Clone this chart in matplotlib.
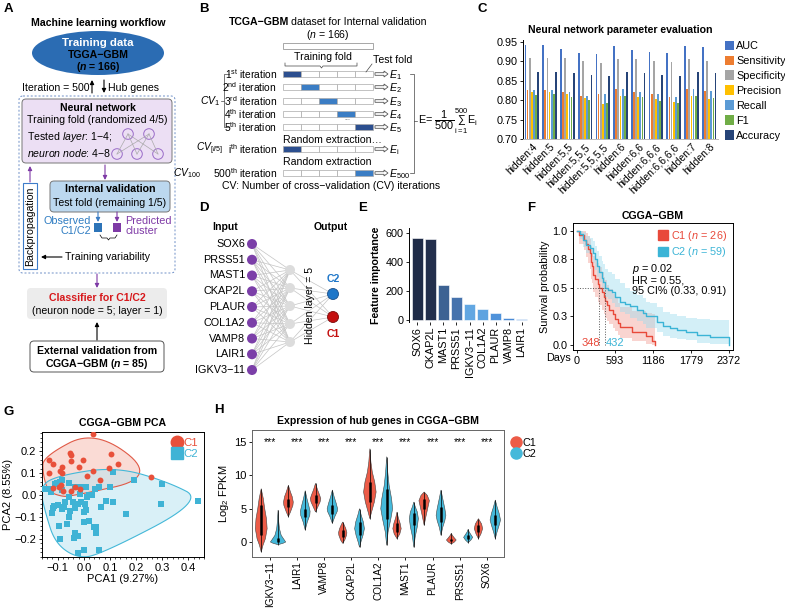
import numpy as np
import matplotlib
matplotlib.use("Agg")
import matplotlib.pyplot as plt
import matplotlib.patches as mp
from matplotlib.lines import Line2D
from matplotlib.ticker import MultipleLocator

plt.rcParams['font.family'] = ['Liberation Sans', 'DejaVu Sans']
plt.rcParams['mathtext.fontset'] = 'custom'
plt.rcParams['mathtext.rm'] = 'Liberation Sans'
plt.rcParams['mathtext.it'] = 'Liberation Sans:italic'
plt.rcParams['mathtext.bf'] = 'Liberation Sans:bold'
plt.rcParams['mathtext.bfit'] = 'Liberation Sans:italic:bold'
plt.rcParams['axes.linewidth'] = 0.7
plt.rcParams['xtick.major.width'] = 0.6
plt.rcParams['ytick.major.width'] = 0.6
plt.rcParams['xtick.major.size'] = 2.5
plt.rcParams['ytick.major.size'] = 2.5
plt.rcParams['xtick.major.pad'] = 1.5
plt.rcParams['ytick.major.pad'] = 1.5

# ---------------- data ----------------
# C: neural network parameter evaluation
models = ['hidden:4', 'hidden:5', 'hidden:5,5', 'hidden:5,5,5', 'hidden:5,5,5,5', 'hidden:6',
          'hidden:6,6', 'hidden:6,6,6', 'hidden:6,6,6,6', 'hidden:7', 'hidden:8']
metrics = ['AUC', 'Sensitivity', 'Specificity', 'Precision', 'Recall', 'F1', 'Accuracy']
auc = [0.941, 0.943, 0.933, 0.922, 0.919, 0.940, 0.930, 0.924, 0.922, 0.940, 0.938]
sens = [0.826, 0.826, 0.821, 0.812, 0.815, 0.829, 0.821, 0.815, 0.809, 0.830, 0.824]
spec = [0.909, 0.909, 0.908, 0.901, 0.896, 0.906, 0.905, 0.900, 0.898, 0.906, 0.901]
prec = [0.820, 0.820, 0.815, 0.806, 0.791, 0.812, 0.809, 0.802, 0.796, 0.810, 0.804]
recall = [0.826, 0.826, 0.821, 0.812, 0.815, 0.829, 0.821, 0.815, 0.809, 0.830, 0.824]
f1 = [0.814, 0.815, 0.808, 0.801, 0.794, 0.812, 0.807, 0.799, 0.794, 0.812, 0.805]
acc = [0.873, 0.873, 0.869, 0.865, 0.862, 0.873, 0.870, 0.865, 0.862, 0.873, 0.869]
metric_colors = ['#4472c4', '#ed7d31', '#a5a5a5', '#ffc000', '#5b9bd5', '#70ad47', '#264478']

# D: network inputs
input_genes = ['SOX6', 'PRSS51', 'MAST1', 'CKAP2L', 'PLAUR', 'COL1A2', 'VAMP8', 'LAIR1', 'IGKV3\u221211']
n_hidden = 5

# E: feature importance
imp_genes = ['SOX6', 'CKAP2L', 'MAST1', 'PRSS51', 'IGKV3\u221211', 'COL1A2', 'PLAUR', 'VAMP8', 'LAIR1']
importance = [567, 556, 239, 159, 108, 76, 50, 16, 8]
imp_colors = ['#1f2b47', '#232f4c', '#3c6293', '#4673ad', '#62a7e2', '#5ea3e0', '#4f92da', '#4a8bd6', '#4e8fd8']

# F: Kaplan-Meier (CGGA-GBM)
c1_t = [0, 40, 110, 150, 180, 200, 215, 228, 238, 245, 252, 290, 325, 348, 390, 420, 440, 470, 505, 560,
        600, 640, 680, 860, 1080, 1170, 1220]
c1_s = [1.0, .962, .923, .885, .846, .808, .769, .731, .692, .654, .615, .577, .538, .500, .462, .423, .385,
        .346, .308, .269, .231, .192, .154, .115, .077, .038, 0.0]
c1_lo = [1.0, .89, .83, .77, .72, .67, .62, .58, .54, .50, .46, .42, .38, .35, .31, .27, .24, .21, .18, .15,
         .12, .09, .06, .03, .01, .0, .0]
c1_hi = [1.0, 1.0, 1.0, .98, .96, .93, .90, .87, .84, .81, .78, .75, .72, .68, .64, .60, .57, .53, .49, .45,
         .41, .37, .33, .30, .28, .27, .27]
c2_t = [0, 50, 94, 150, 200, 250, 280, 312, 350, 390, 410, 432, 480, 546, 600, 670, 750, 827, 930, 1030,
        1080, 1139, 1250, 1342, 1450, 1560, 1700, 1872, 2075, 2372]
c2_s = [1.0, .97, .92, .88, .85, .81, .75, .69, .64, .59, .55, .50, .48, .46, .42, .38, .36, .34, .31, .28,
        .25, .25, .20, .17, .15, .13, .11, .09, .07, .0]
c2_lo = [1.0, .93, .86, .81, .77, .72, .66, .60, .55, .50, .46, .42, .40, .37, .33, .29, .27, .24, .21, .18,
         .15, .15, .11, .08, .06, .05, .04, .02, .01, .0]
c2_hi = [1.0, 1.0, .99, .96, .94, .91, .87, .82, .78, .74, .71, .67, .64, .62, .58, .54, .50, .47, .44, .41,
         .38, .37, .33, .29, .27, .25, .24, .23, .22, .22]
med_c1, med_c2 = 348, 432
km_ticks = [0, 593, 1186, 1779, 2372]

# G: PCA
c1_pc1 = [0.036, -0.135, -0.119, -0.132, -0.092, -0.085, -0.083, -0.051, -0.050, -0.050, -0.019, -0.005, 0.013,
          0.037, 0.062, 0.098, 0.105, 0.129, 0.259, -0.118, -0.096, -0.089, -0.080, -0.050, -0.032, -0.013]
c1_pc2 = [0.275, 0.161, 0.141, 0.099, 0.109, 0.100, 0.128, 0.191, 0.183, 0.155, 0.128, 0.161, 0.087,
          0.109, 0.067, 0.123, 0.188, 0.140, 0.081, 0.032, 0.037, 0.045, 0.017, 0.016, 0.037, 0.029]
c2_pc1 = [-0.147, -0.132, -0.112, -0.103, -0.090, -0.083, -0.058, -0.034, -0.013, 0.009, 0.041, 0.057, 0.112,
          0.102, 0.192, 0.300, 0.436, 0.294, 0.162, 0.111, 0.085, 0.064, 0.019, 0.013, 0.004, 0.009, 0.000,
          -0.010, -0.023, -0.042, -0.055, -0.071, -0.077, -0.083, -0.099, -0.115, -0.119, -0.083, -0.058,
          -0.064, -0.096, -0.092, -0.039, -0.032, -0.022, 0.000, 0.019, 0.038, 0.045, 0.045, 0.057, 0.000,
          -0.022, -0.121, -0.051, -0.035, -0.013, -0.125, 0.030]
c2_pc2 = [0.028, 0.028, 0.048, 0.052, 0.060, 0.070, 0.055, 0.037, 0.037, 0.034, 0.025, 0.037, 0.105,
          0.037, 0.067, 0.049, -0.028, -0.043, -0.087, -0.032, -0.029, -0.057, 0.001, -0.011, -0.039, -0.069,
          -0.076, -0.034, -0.039, -0.031, -0.008, -0.031, -0.057, -0.066, -0.046, -0.051, -0.061, 0.022,
          -0.102, -0.132, -0.141, -0.200, -0.197, -0.174, -0.186, -0.121, -0.117, -0.144, -0.174, -0.147,
          -0.250, -0.250, -0.262, -0.084, -0.072, -0.061, 0.004, 0.015, 0.000]

# H: violin outlines (y knots, half-width knots in px*3) per gene
hub_genes = ['IGKV3\u221211', 'LAIR1', 'VAMP8', 'CKAP2L', 'COL1A2', 'MAST1', 'PLAUR', 'PRSS51', 'SOX6']
red_vy = [[-1.5, -0.5, 0.5, 2, 3.5, 5, 6.5, 8], [3.8, 4.5, 5.5, 6, 6.8, 7.5, 8.5],
          [4.5, 5.2, 6, 6.5, 7, 7.8, 8.8], [-0.2, 0.3, 1, 1.4, 2, 2.6, 3],
          [3.5, 4.5, 6, 7.5, 9, 10.5, 12, 14], [0.5, 1.2, 2, 2.8, 3.6, 4.5],
          [2.5, 3.8, 5, 6.2, 7, 7.5], [-0.3, 0, 0.3, 0.6, 1, 1.3], [0.5, 1.2, 2, 2.7, 3.5]]
red_vw = [[0, 5, 12, 17, 15, 10, 6, 0], [0, 6, 13, 14, 11, 6, 0], [0, 6, 13, 15, 12, 6, 0],
          [0, 6, 11, 12, 9, 4, 0], [0, 5, 13, 18, 14, 7, 3, 0], [0, 8, 12, 9, 4, 0],
          [0, 5, 10, 15, 9, 0], [0, 9, 14, 9, 3, 0], [0, 7, 12, 9, 0]]
blue_vy = [[-0.4, -0.2, 0, 0.3, 1, 2, 3, 4.8], [1.8, 3, 4, 4.6, 5.5, 6.5, 7.7],
           [2.8, 3.8, 4.6, 5, 5.8, 6.8, 7.8], [-0.8, 0, 1, 2, 3, 4, 5],
           [-0.5, 1.5, 3.5, 5, 6.5, 8.5, 10.5, 12.8], [-0.8, 0.8, 2.3, 3.5, 4.5, 5.3, 6],
           [1, 2.2, 3.2, 4, 5, 6.5, 7.8], [-0.1, 0.3, 0.7, 1.1, 1.5, 1.9], [0.5, 1.5, 2.5, 3.3, 4.3, 5.3, 6.3]]
blue_vw = [[0, 14, 22, 18, 9, 4, 2, 0], [0, 6, 13, 14, 10, 5, 0], [0, 7, 14, 15, 11, 5, 0],
           [0, 4, 10, 14, 11, 5, 0], [0, 4, 12, 17, 14, 7, 3, 0], [0, 4, 10, 13, 10, 4, 0],
           [0, 5, 11, 14, 11, 5, 0], [0, 8, 13, 8, 3, 0], [0, 5, 11, 15, 11, 5, 0]]
red_q1 = [1.0, 5.3, 5.9, 0.8, 6.0, 1.5, 5.0, 0.1, 1.5]
red_q3 = [5.5, 6.5, 7.0, 1.8, 9.0, 2.8, 6.5, 0.5, 2.6]
blue_q1 = [0.0, 3.8, 4.2, 1.0, 3.5, 2.5, 3.0, 0.4, 2.5]
blue_q3 = [0.6, 5.0, 5.6, 3.0, 8.0, 4.3, 5.2, 1.0, 4.0]

RED = '#ec5b47'
BLUE = '#45b9da'
FS = 7.6
TS = 7.6

fig = plt.figure(figsize=(7.85, 6.10), dpi=100)
W, H = 785, 610
ov = fig.add_axes([0, 0, 1, 1])
ov.set_xlim(0, W)
ov.set_ylim(H, 0)
ov.axis('off')


def pax(l, t, r, b):
    return fig.add_axes([l / W, 1 - b / H, (r - l) / W, (b - t) / H])


def arr(x0, y0, x1, y1, c='k'):
    ov.annotate('', xy=(x1, y1), xytext=(x0, y0),
                arrowprops=dict(arrowstyle='-|>', color=c, lw=0.8, mutation_scale=6, shrinkA=0, shrinkB=0))


def txt(x, y, s, **kw):
    kw.setdefault('fontsize', FS)
    kw.setdefault('ha', 'center')
    kw.setdefault('va', 'center')
    ov.text(x, y, s, **kw)


def rbox(x, y, w, h, fc, ec, **kw):
    ov.add_patch(mp.FancyBboxPatch((x, y), w, h, boxstyle='round,pad=0,rounding_size=4', fc=fc, ec=ec, **kw))


# panel letters
for lab, x, y in [('A', 4, 9), ('B', 199, 9), ('C', 477, 9), ('D', 199, 208), ('E', 358, 208),
                  ('F', 527, 208), ('G', 3, 412), ('H', 214, 410)]:
    txt(x, y, lab, fontsize=9.5, fontweight='bold', ha='left')

# ---------------- A: workflow ----------------
txt(98, 23, 'Machine learning workflow', fontweight='bold', fontsize=TS)
ov.add_patch(mp.Ellipse((98, 53), 132, 44, fc='#2b6cb3', ec='none'))
txt(98, 43, 'Training data', color='white', fontweight='bold', fontsize=8.2)
txt(98, 55, 'TGGA\u2212GBM', fontweight='bold', fontsize=7.6)
txt(98, 67, '($\\mathbfit{n}$ = 166)', fontweight='bold', fontsize=7.6)
arr(92, 93, 92, 80)
arr(104, 80, 104, 93)
txt(89, 88, 'Iteration = 500', ha='right')
txt(108, 88, 'Hub genes', ha='left')
rbox(19, 96, 156, 177, 'none', '#6d8fc7', lw=0.7, ls=(0, (2, 2)))
rbox(22, 99, 150, 64, '#ecdff4', '#777777', lw=0.7)
txt(98, 108, 'Neural network', fontweight='bold', fontsize=TS)
txt(97, 120, 'Training fold (randomized 4/5)')
txt(27, 137, 'Tested $\\mathit{layer}$: 1\u22124;', ha='left')
txt(27, 153, '$\\mathit{neuron\\ node}$: 4\u22128', ha='left')
top_icon = [(128, 134), (149, 134)]
bot_icon = [(117, 154), (137, 154), (158, 154)]
for a in top_icon:
    for b in bot_icon:
        ov.plot([a[0], b[0]], [a[1], b[1]], color='#aaaaaa', lw=0.5)
for c in top_icon + bot_icon:
    ov.add_patch(mp.Circle(c, 5.3, fc='#ecdff4', ec='#9a6cc8', lw=0.7))
arr(105, 165, 105, 180, '#7e3aa6')
rbox(50, 181, 120, 31, '#bcd8ef', '#777777', lw=0.7)
txt(110, 189, 'Internal validation', fontweight='bold', fontsize=TS)
txt(110, 203, 'Test fold (remaining 1/5)')
arr(98, 212, 98, 222, '#3b7dc4')
arr(117, 212, 117, 222, '#7e3aa6')
ov.add_patch(mp.Rectangle((94, 223), 8, 9, fc='#2d74b8', ec='none'))
ov.add_patch(mp.Rectangle((113, 223), 8, 9, fc='#7e3aa6', ec='none'))
txt(91, 226, 'Observed\nC1/C2', ha='right', color='#2e7cc2', fontsize=7.8, linespacing=0.95)
txt(125, 226, 'Predicted\ncluster', ha='left', color='#7e3aa6', fontsize=7.8, linespacing=0.95)
ov.plot([100, 102, 107, 108.5, 110, 115, 117], [235, 238, 238, 240, 238, 238, 235], color='k', lw=0.5)
ov.add_patch(mp.Rectangle((23, 183), 14, 86, fc='white', ec='#3d7cc9', lw=0.8))
txt(30.5, 226, 'Backpropagation', rotation=90)
arr(30, 182, 30, 166, '#7e3aa6')
arr(62, 257, 41, 257)
txt(65, 257, 'Training variability', ha='left')
arr(97, 274, 97, 288, '#7e3aa6')
rbox(27, 288, 140, 31, '#ececec', 'none')
txt(97, 298, 'Classifier for C1/C2', color='#d7191c', fontweight='bold', fontsize=TS)
txt(97, 311, '(neuron node = 5; layer = 1)')
arr(97, 340, 97, 322)
rbox(30, 341, 134, 31, 'white', '#555555', lw=0.7)
txt(97, 351, 'External validation from', fontweight='bold', fontsize=TS)
txt(97, 364, 'CGGA\u2212GBM ($\\mathbfit{n}$ = 85)', fontweight='bold', fontsize=TS)

# ---------------- B: cross validation scheme ----------------
txt(289, 22, 'TCGA\u2212GBM', fontweight='bold', ha='right', fontsize=7.6)
txt(291, 22, 'dataset for Internal validation', ha='left', fontsize=7.6)
txt(328, 35, '($\\mathit{n}$ = 166)', fontsize=7.6)
ov.add_patch(mp.Rectangle((283, 43), 90, 6, fc='white', ec='#999999', lw=0.6))
txt(323, 57, 'Training fold', fontsize=7.6)
ov.plot([285, 285, 320, 321.5, 323, 357, 357], [63, 66, 66, 68, 66, 66, 63], color='#444', lw=0.5)
txt(373, 60, 'Test fold', ha='left', fontsize=7.6)
ov.plot([366, 372], [72, 64], color='#444', lw=0.5)
row_y = [74, 87, 101, 114, 127, 149, 173]
row_hi = [0, 1, 2, 3, 4, 0, 4]
row_col = ['#2c4f8f', '#3b7dc4', '#3b7dc4', '#3b7dc4', '#2c4f8f', '#2c4f8f', '#3b7dc4']
row_lab = ['1$^{\\mathrm{st}}$ iteration', '2$^{\\mathrm{nd}}$ iteration', '3$^{\\mathrm{rd}}$ iteration',
           '4$^{\\mathrm{th}}$ iteration', '5$^{\\mathrm{th}}$ iteration', 'i$^{\\mathrm{th}}$ iteration',
           '500$^{\\mathrm{th}}$ iteration']
row_e = ['$E_1$', '$E_2$', '$E_3$', '$E_4$', '$E_5$', '$E_\\mathrm{i}$', '$E_{500}$']
for y, h, c, lab, e in zip(row_y, row_hi, row_col, row_lab, row_e):
    for k in range(5):
        ov.add_patch(mp.Rectangle((283 + 18 * k, y - 3), 18, 6, fc=c if k == h else 'white',
                                  ec='#aaaaaa', lw=0.5))
    txt(277, y, lab, ha='right', fontsize=7.4)
    ov.add_patch(mp.FancyArrow(375, y, 13, 0, width=2.6, head_width=6, head_length=4,
                               length_includes_head=True, fc='white', ec='#555555', lw=0.6))
    txt(389, y + 1, e, ha='left', fontsize=7.6)
ov.plot([229, 224, 224, 229], [74, 74, 127, 127], color='#444', lw=0.5)
ov.plot([224, 221], [101, 101], color='#444', lw=0.5)
txt(220, 101, '$CV_1$', ha='right', fontsize=7.6)
txt(223, 149, '$CV_{[i/5]}$', ha='right', fontsize=7.4)
txt(201, 173, '$CV_{100}$', ha='right', fontsize=7.4)
txt(283, 140, 'Random extraction\u2026', ha='left', fontsize=7.6)
txt(283, 162, 'Random extraction', ha='left', fontsize=7.6)
txt(347, 119, '...', fontsize=5, color='#555')
ov.plot([410, 414, 414, 410], [74, 74, 173, 173], color='#444', lw=0.5)
ov.plot([414, 417], [121, 121], color='#444', lw=0.5)
txt(418, 121, 'E= $\\dfrac{1}{500}\\sum_{\\mathrm{i}=1}^{500}$E$_\\mathrm{i}$', ha='left', fontsize=7.8)
txt(331, 186, 'CV: Number of cross\u2212validation (CV) iterations', fontsize=7.6)

# ---------------- C: parameter evaluation ----------------
axc = pax(523, 40, 718, 139)
vals = [auc, sens, spec, prec, recall, f1, acc]
x = np.arange(len(models))
for k, (v, c) in enumerate(zip(vals, metric_colors)):
    axc.bar(x + (k - 3) * 0.12, np.array(v) - 0.70, bottom=0.70, width=0.1, color=c, label=metrics[k])
axc.set_xlim(-0.5, len(models) - 0.5)
axc.set_ylim(0.70, 0.955)
axc.set_yticks([0.70, 0.75, 0.80, 0.85, 0.90, 0.95])
axc.set_yticklabels(['%.2f' % t for t in [0.70, 0.75, 0.80, 0.85, 0.90, 0.95]], fontsize=7.8)
axc.set_xticks(x)
axc.set_xticklabels(models, rotation=45, ha='right', rotation_mode='anchor', fontsize=7.4)
axc.tick_params(axis='x', length=0, pad=2)
for s in ['top', 'right']:
    axc.spines[s].set_visible(False)
axc.spines['bottom'].set_color('#bbbbbb')
axc.set_title('Neural network parameter evaluation', fontsize=TS, fontweight='bold', pad=5)
axc.legend(loc='upper left', bbox_to_anchor=(1.0, 1.06), frameon=False, fontsize=7.8,
           handlelength=0.85, handleheight=0.95, handletextpad=0.25, labelspacing=0.42, borderaxespad=0.2)

# ---------------- D: network ----------------
txt(225, 227, 'Input', fontweight='bold', fontsize=TS)
txt(331, 227, 'Output', fontweight='bold', fontsize=TS)
in_xy = [(252, 244 + i * 15.75) for i in range(len(input_genes))]
hid_xy = [(290, 270 + j * 18) for j in range(n_hidden)]
out_xy = [(333, 294), (333, 317)]
for a in in_xy:
    for b in hid_xy:
        ov.plot([a[0], b[0]], [a[1], b[1]], color='#c4c4c4', lw=0.5, zorder=1)
for a in hid_xy:
    for b in out_xy:
        ov.plot([a[0], b[0]], [a[1], b[1]], color='#c4c4c4', lw=0.5, zorder=1)
for (xx, yy), g in zip(in_xy, input_genes):
    ov.add_patch(mp.Circle((xx, yy), 5, fc='#7b3fa8', ec='none', zorder=3))
    txt(245, yy, g, ha='right', fontsize=7.8)
for c in hid_xy:
    ov.add_patch(mp.Circle(c, 5, fc='#dcdcdc', ec='none', zorder=3))
ov.add_patch(mp.Circle(out_xy[0], 5.5, fc='#1f77c9', ec='#1a4f8a', lw=0.6, zorder=3))
ov.add_patch(mp.Circle(out_xy[1], 5.5, fc='#c40f0f', ec='#7a0a0a', lw=0.6, zorder=3))
txt(333, 279, 'C2', color='#1f77c9', fontweight='bold', fontsize=TS)
txt(333, 334, 'C1', color='#c40f0f', fontweight='bold', fontsize=TS)
txt(310, 305, 'Hidden layer = %d' % n_hidden, rotation=90, fontsize=7.6)

# ---------------- E: feature importance ----------------
axe = pax(409, 228, 530, 322)
xe = np.arange(len(imp_genes))
axe.bar(xe, importance, width=0.88, color=imp_colors, edgecolor='white', linewidth=0.4)
axe.set_xlim(-0.65, len(imp_genes) - 0.35)
axe.set_ylim(-14, 634)
axe.set_yticks([0, 200, 400, 600])
axe.tick_params(axis='y', labelsize=7.8)
axe.set_xticks(xe)
axe.set_xticklabels(imp_genes, rotation=90, fontsize=7.8)
axe.tick_params(axis='x', length=2)
for s in ['top', 'right', 'bottom']:
    axe.spines[s].set_visible(False)
axe.set_ylabel('Feature importance', fontsize=TS, fontweight='bold', labelpad=3)

# ---------------- F: survival ----------------
axf = pax(573, 223, 733, 350)
axf.fill_between(c1_t, c1_lo, c1_hi, step='post', color='#f3a197', alpha=0.45, lw=0)
axf.fill_between(c2_t, c2_lo, c2_hi, step='post', color='#9fdcef', alpha=0.45, lw=0)
axf.step(c1_t, c1_s, where='post', color='#e8493a', lw=1.0)
axf.step(c2_t, c2_s, where='post', color='#3bb4d6', lw=1.0)
axf.plot([0, med_c2], [0.5, 0.5], ls=':', color='#555', lw=0.7)
axf.plot([med_c1, med_c1], [0, 0.5], ls=':', color='#555', lw=0.7)
axf.plot([med_c2, med_c2], [0, 0.5], ls=':', color='#555', lw=0.7)
axf.text(med_c1 + 10, 0.02, str(med_c1), color='#e8493a', ha='right', va='center', fontsize=8)
axf.text(med_c2 + 15, 0.02, str(med_c2), color='#3bb4d6', ha='left', va='center', fontsize=8)
axf.set_xlim(-60, 2434)
axf.set_ylim(-0.045, 1.07)
axf.set_xticks(km_ticks)
axf.set_xticklabels([str(t) for t in km_ticks], fontsize=7.8)
axf.set_yticks([0, 0.25, 0.5, 0.75, 1.0])
axf.set_yticklabels(['0.0', '0.3', '0.5', '0.8', '1.0'], fontsize=7.8)
axf.set_ylabel('Survival probability', fontsize=7.8, labelpad=2)
axf.set_title('CGGA\u2212GBM', fontsize=TS, fontweight='bold', pad=3)
txt(571, 358, 'Days', ha='right', fontsize=7.8)
axf.text(858, 0.73, '$\\mathit{p}$ = 0.02\nHR = 0.55,\n95 CI% (0.33, 0.91)', ha='left', va='top',
         fontsize=7.8, linespacing=1.0)
hf = [mp.Patch(color='#e8493a'), mp.Patch(color='#3bb4d6')]
axf.legend(hf, ['C1 ($\\mathit{n}$ = 26)', 'C2 ($\\mathit{n}$ = 59)'], loc='upper right',
           labelcolor=['#e8493a', '#3bb4d6'], frameon=False, fontsize=7.8, handlelength=0.9,
           handleheight=1.0, handletextpad=0.3, labelspacing=0.2, borderaxespad=0.15)


# ---------------- G: PCA ----------------
def hull(px, py):
    pts = sorted(zip(px, py))

    def cross(o, a, b):
        return (a[0] - o[0]) * (b[1] - o[1]) - (a[1] - o[1]) * (b[0] - o[0])
    lower, upper = [], []
    for p in pts:
        while len(lower) >= 2 and cross(lower[-2], lower[-1], p) <= 0:
            lower.pop()
        lower.append(p)
    for p in reversed(pts):
        while len(upper) >= 2 and cross(upper[-2], upper[-1], p) <= 0:
            upper.pop()
        upper.append(p)
    return np.array(lower[:-1] + upper[:-1])


def smooth_hull(px, py, off=0.025, it=4):
    h = hull(px, py)
    c = h.mean(axis=0)
    d = h - c
    h = h + d / np.linalg.norm(d, axis=1)[:, None] * off
    for _ in range(it):
        n = np.roll(h, -1, axis=0)
        q = 0.75 * h + 0.25 * n
        r = 0.25 * h + 0.75 * n
        h = np.empty((2 * len(q), 2))
        h[0::2] = q
        h[1::2] = r
    return h


axg = pax(42, 432, 204, 557)
h1 = smooth_hull(c1_pc1, c1_pc2)
h2 = smooth_hull(c2_pc1, c2_pc2)
axg.fill(h1[:, 0], h1[:, 1], fc='#f6b8ac', alpha=0.5, ec='none')
axg.fill(h2[:, 0], h2[:, 1], fc='#b5e3f1', alpha=0.5, ec='none')
axg.fill(h1[:, 0], h1[:, 1], fc='none', ec='#e05a47', lw=0.8)
axg.fill(h2[:, 0], h2[:, 1], fc='none', ec='#44b8d8', lw=0.8)
axg.scatter(c2_pc1, c2_pc2, marker='s', s=15, color='#3fb3d5', lw=0, zorder=3)
axg.scatter(c1_pc1, c1_pc2, marker='o', s=18, color='#e8503a', lw=0, zorder=4)
axg.set_xlim(-0.16, 0.46)
axg.set_ylim(-0.282, 0.286)
axg.set_xticks([-0.1, 0.0, 0.1, 0.2, 0.3, 0.4])
axg.set_yticks([-0.2, -0.1, 0.0, 0.1, 0.2])
axg.xaxis.set_minor_locator(MultipleLocator(0.02))
axg.yaxis.set_minor_locator(MultipleLocator(0.02))
axg.tick_params(which='minor', length=1.5, width=0.5)
axg.tick_params(labelsize=8)
axg.set_xlabel('PCA1 (9.27%)', fontsize=8, labelpad=1)
axg.set_ylabel('PCA2 (8.55%)', fontsize=8, labelpad=1)
axg.set_title('CGGA\u2212GBM PCA', fontsize=TS, fontweight='bold', pad=4)
hg = [Line2D([], [], marker='o', ls='', color='#e8503a', markersize=9),
      Line2D([], [], marker='s', ls='', color='#3fb3d5', markersize=9)]
axg.legend(hg, ['C1', 'C2'], loc='upper right', labelcolor=['#e8503a', '#3fb3d5'], frameon=False,
           fontsize=8.2, handlelength=0.8, handletextpad=0.15, labelspacing=0.1, borderaxespad=0.15)

# ---------------- H: violins ----------------
axh = pax(252, 430, 504, 557)
for i in range(len(hub_genes)):
    for ys, ws, q1, q3, off, col in [(red_vy[i], red_vw[i], red_q1[i], red_q3[i], -0.31, RED),
                                     (blue_vy[i], blue_vw[i], blue_q1[i], blue_q3[i], 0.31, BLUE)]:
        y = np.array(ys, dtype=float)
        w = np.array(ws, dtype=float) / 78.0
        p = i + 1 + off
        axh.fill(np.r_[p - w, (p + w)[::-1]], np.r_[y, y[::-1]], fc=col, ec='#444444', lw=0.4)
        axh.vlines(p, y.min(), y.max(), color='k', lw=0.5)
        axh.vlines(p, q1, q3, color='k', lw=1.8)
    axh.text(i + 1, 15, '***', ha='center', va='center', fontsize=7.5)
axh.set_xlim(0.35, len(hub_genes) + 0.63)
axh.set_ylim(-2.25, 16.8)
axh.set_yticks([0, 5, 10, 15])
axh.tick_params(axis='y', labelsize=8)
axh.set_xticks(np.arange(1, len(hub_genes) + 1))
axh.set_xticklabels(hub_genes, rotation=90, fontsize=7.2)
axh.tick_params(axis='x', pad=1, length=2)
axh.set_ylabel('Log$_2$ FPKM', fontsize=8, labelpad=2)
axh.set_title('Expression of hub genes in CGGA\u2212GBM', fontsize=TS, fontweight='bold', pad=4)
for s in axh.spines.values():
    s.set_color('#666666')
hh = [Line2D([], [], marker='o', ls='', color=RED, markersize=8),
      Line2D([], [], marker='o', ls='', color=BLUE, markersize=8)]
axh.legend(hh, ['C1', 'C2'], loc='upper left', bbox_to_anchor=(1.0, 1.0), frameon=False, fontsize=7.8,
           handlelength=0.8, handletextpad=0.2, labelspacing=0.1, borderaxespad=0.3)

fig.savefig('out.png', dpi=100)
